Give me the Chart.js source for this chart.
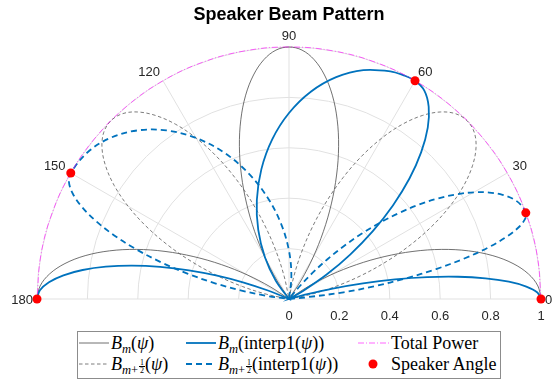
<!DOCTYPE html>
<html>
<head>
<meta charset="utf-8">
<script src="https://cdn.jsdelivr.net/npm/chart.js@4.4.1/dist/chart.umd.min.js"></script>
<style>
  body { margin: 0; background: #fff; }
  #wrap { position: relative; width: 552px; height: 385px; }
  #leg { position: absolute; left: 77px; top: 331px; width: 422px; height: 46px;
         border: 1px solid #8c8c8c; background: #fff; }
  .ent { position: absolute; height: 20px; display: flex; align-items: center; }
  .ent svg { flex: none; }
  .m { font-family: 'Liberation Serif', 'Times New Roman', serif; font-size: 18px; color: #000;
       white-space: nowrap; margin-left: 2px; }
  .m sub { font-size: 12.5px; vertical-align: -4px; line-height: 0; }
  .fr { display: inline-block; font-size: 8px; line-height: 7px;
        vertical-align: 1px; text-align: center; margin-left: 1px; }
  .fr span { display: block; padding: 0 1px; }
  .fr span + span { border-top: 0.8px solid #000; }
</style>
</head>
<body>
<div id="wrap">
  <canvas id="c" width="552" height="385"></canvas>
  <div id="leg">
    <div class="ent" style="left:0px;top:1px">
      <svg width="31" height="10"><line x1="1" y1="5" x2="31" y2="5" stroke="#4d4d4d" stroke-width="0.8"/></svg>
      <span class="m"><i>B</i><sub><i>m</i></sub>(<i>ψ</i>)</span>
    </div>
    <div class="ent" style="left:0px;top:22px">
      <svg width="31" height="10"><line x1="1" y1="5" x2="31" y2="5" stroke="#5a5a5a" stroke-width="0.8" stroke-dasharray="3.5 2.5"/></svg>
      <span class="m"><i>B</i><sub><i>m</i>+<span class="fr"><span>1</span><span>2</span></span></sub>(<i>ψ</i>)</span>
    </div>
    <div class="ent" style="left:107px;top:1px">
      <svg width="31" height="10"><line x1="1" y1="5" x2="31" y2="5" stroke="#0072BD" stroke-width="1.8"/></svg>
      <span class="m"><i>B</i><sub><i>m</i></sub>(interp1(<i>ψ</i>))</span>
    </div>
    <div class="ent" style="left:107px;top:22px">
      <svg width="31" height="10"><line x1="1" y1="5" x2="31" y2="5" stroke="#0072BD" stroke-width="1.8" stroke-dasharray="6 4"/></svg>
      <span class="m"><i>B</i><sub><i>m</i>+<span class="fr"><span>1</span><span>2</span></span></sub>(interp1(<i>ψ</i>))</span>
    </div>
    <div class="ent" style="left:279px;top:1px">
      <svg width="32" height="10"><line x1="1" y1="5" x2="32" y2="5" stroke="#ff00ff" stroke-opacity="0.6" stroke-width="1" stroke-dasharray="6 2 1 2"/></svg>
      <span class="m">Total Power</span>
    </div>
    <div class="ent" style="left:279px;top:22px">
      <svg width="32" height="10"><circle cx="16" cy="5" r="4.5" fill="#ff0000"/></svg>
      <span class="m">Speaker Angle</span>
    </div>
  </div>
</div>
<script>
// Polar data: angles in degrees, radii (normalised beam amplitude)

// B_m(psi) - beams at 0, 90, 180
const bmAngles = [0, 3, 6, 9, 12, 15, 18, 21, 24, 27, 30, 33, 36,
                  54, 57, 60, 63, 66, 69, 72, 75, 78, 81, 84, 87, 90, 93, 96, 99, 102, 105, 108, 111, 114, 117, 120, 123, 126,
                  144, 147, 150, 153, 156, 159, 162, 165, 168, 171, 174, 177, 180];
const bmR = [1, 0.989, 0.955, 0.90, 0.827, 0.738, 0.637, 0.527, 0.413, 0.30, 0.191, 0.09, 0,
             0, 0.09, 0.191, 0.30, 0.413, 0.527, 0.637, 0.738, 0.827, 0.90, 0.955, 0.989, 1, 0.989, 0.955, 0.90, 0.827, 0.738, 0.637, 0.527, 0.413, 0.30, 0.191, 0.09, 0,
             0, 0.09, 0.191, 0.30, 0.413, 0.527, 0.637, 0.738, 0.827, 0.90, 0.955, 0.989, 1];

// B_{m+1/2}(psi) - beams at 45, 135
const bhAngles = [0, 9, 12, 15, 18, 21, 24, 27, 30, 33, 36, 39, 42, 45, 48, 51, 54, 57, 60, 63, 66, 69, 72, 75, 78, 81,
                  99, 102, 105, 108, 111, 114, 117, 120, 123, 126, 129, 132, 135, 138, 141, 144, 147, 150, 153, 156, 159, 162, 165, 168, 171, 180];
const bhR = [0, 0, 0.09, 0.191, 0.30, 0.413, 0.527, 0.637, 0.738, 0.827, 0.90, 0.955, 0.989, 1, 0.989, 0.955, 0.90, 0.827, 0.738, 0.637, 0.527, 0.413, 0.30, 0.191, 0.09, 0,
             0, 0.09, 0.191, 0.30, 0.413, 0.527, 0.637, 0.738, 0.827, 0.90, 0.955, 0.989, 1, 0.989, 0.955, 0.90, 0.827, 0.738, 0.637, 0.527, 0.413, 0.30, 0.191, 0.09, 0, 0];

// B_m(interp1(psi)) - beams at 0, 60, 180
const imAngles = [0, 1.5, 3, 4.5, 6, 7.5, 9, 10.5, 12, 13.5, 15, 16,
                  28, 30, 33, 36, 39, 42, 45, 48, 51, 54, 57, 60, 63, 66, 72, 78, 84, 90, 96, 102, 108, 114, 120, 126, 132,
                  156, 158, 160, 162, 164, 166, 168, 170, 172, 174, 176, 178, 180];
const imR = [1, 0.986, 0.943, 0.875, 0.784, 0.676, 0.555, 0.428, 0.30, 0.178, 0.066, 0,
             0, 0.066, 0.178, 0.30, 0.428, 0.555, 0.676, 0.784, 0.875, 0.943, 0.986, 1, 0.997, 0.989, 0.955, 0.90, 0.827, 0.738, 0.637, 0.527, 0.413, 0.30, 0.191, 0.09, 0,
             0, 0.09, 0.191, 0.30, 0.413, 0.527, 0.637, 0.738, 0.827, 0.90, 0.955, 0.989, 1];

// B_{m+1/2}(interp1(psi)) - beams at 20, 150
const ihAngles = [0, 4, 5.5, 7, 8.5, 10, 11.5, 13, 14.5, 16, 17.5, 19, 20, 22, 24, 26, 28, 30, 32, 34, 36, 38, 40, 42, 44, 46, 48, 50, 52,
                  78, 84, 90, 96, 102, 108, 114, 120, 126, 132, 138, 144, 150, 152, 154, 156, 158, 160, 162, 164, 166, 168, 170, 172, 174, 180];
const ihR = [0, 0, 0.066, 0.218, 0.342, 0.47, 0.596, 0.714, 0.817, 0.90, 0.96, 0.994, 1, 0.994, 0.975, 0.943, 0.90, 0.847, 0.784, 0.714, 0.637, 0.555, 0.47, 0.385, 0.30, 0.218, 0.139, 0.066, 0,
             0, 0.09, 0.191, 0.30, 0.413, 0.527, 0.637, 0.738, 0.827, 0.90, 0.955, 0.989, 1, 0.989, 0.955, 0.90, 0.827, 0.738, 0.637, 0.527, 0.413, 0.30, 0.191, 0.09, 0, 0];

// Total power envelope
const tpAngles = [0, 10, 20, 30, 40, 50, 60, 70, 80, 90, 100, 110, 120, 130, 140, 150, 160, 170, 180];
const tpR = [1, 1, 1, 1, 1, 1, 1, 1, 1, 1, 1, 1, 1, 1, 1, 1, 1, 1, 1];

// Speaker angles
const spkAngles = [0, 20, 60, 150, 180];
const spkR = [1, 1, 1, 1, 1];

const angleTicks = [0, 30, 60, 90, 120, 150, 180];
const radialTicks = [0, 0.2, 0.4, 0.6, 0.8, 1];
const radialLabels = ['0', '0.2', '0.4', '0.6', '0.8', '1'];

function toXY(angles, radii) {
    return angles.map((a, i) => ({
        x: radii[i] * Math.cos(a * Math.PI / 180),
        y: radii[i] * Math.sin(a * Math.PI / 180)
    }));
}

const polarGrid = {
    id: 'polarGrid',
    beforeDatasetsDraw(chart) {
        const {ctx, scales: {x, y}} = chart;
        const cx = x.getPixelForValue(0), cy = y.getPixelForValue(0);
        const R = x.getPixelForValue(1) - cx;
        ctx.save();
        ctx.strokeStyle = '#e1e1e1';
        ctx.lineWidth = 1;
        radialTicks.forEach(r => {
            if (r === 0) return;
            ctx.beginPath();
            ctx.arc(cx, cy, R * r, Math.PI, 2 * Math.PI);
            ctx.stroke();
        });
        angleTicks.forEach(a => {
            const t = a * Math.PI / 180;
            ctx.beginPath();
            ctx.moveTo(cx, cy);
            ctx.lineTo(cx + R * Math.cos(t), cy - R * Math.sin(t));
            ctx.stroke();
        });
        ctx.restore();
    },
    afterDraw(chart) {
        const {ctx, scales: {x, y}} = chart;
        const cx = x.getPixelForValue(0), cy = y.getPixelForValue(0);
        const R = x.getPixelForValue(1) - cx;
        ctx.save();
        ctx.fillStyle = '#262626';
        ctx.font = '13px "Liberation Sans", Arial, sans-serif';
        // angle labels
        angleTicks.forEach(a => {
            const t = a * Math.PI / 180;
            const px = cx + (R + 6) * Math.cos(t), py = cy - (R + 6) * Math.sin(t);
            if (a === 0) {
                ctx.textAlign = 'left'; ctx.textBaseline = 'middle';
                ctx.fillText(String(a), cx + R + 4, cy + 1);
            } else if (a === 180) {
                ctx.textAlign = 'right'; ctx.textBaseline = 'middle';
                ctx.fillText(String(a), cx - R - 4, cy + 1);
            } else {
                ctx.textBaseline = 'alphabetic';
                ctx.textAlign = a < 90 ? 'left' : (a > 90 ? 'right' : 'center');
                ctx.fillText(String(a), px, py + (a === 90 ? -1 : 0));
            }
        });
        // radial tick labels
        ctx.textAlign = 'center';
        ctx.textBaseline = 'alphabetic';
        radialTicks.forEach((r, i) => {
            ctx.fillText(radialLabels[i], x.getPixelForValue(r), cy + 21);
        });
        // title
        ctx.fillStyle = '#000';
        ctx.font = 'bold 18px "Liberation Sans", Arial, sans-serif';
        ctx.fillText('Speaker Beam Pattern', cx, 20);
        ctx.restore();
    }
};

const lineBase = { showLine: true, pointRadius: 0, clip: false, fill: false };

new Chart(document.getElementById('c'), {
    type: 'scatter',
    data: {
        datasets: [
            Object.assign({}, lineBase, { label: 'Bm', data: toXY(bmAngles, bmR), borderColor: '#4d4d4d', borderWidth: 0.8, tension: 0.35, order: 6 }),
            Object.assign({}, lineBase, { label: 'Bh', data: toXY(bhAngles, bhR), borderColor: '#5a5a5a', borderWidth: 0.8, borderDash: [3.5, 2.5], tension: 0.35, order: 5 }),
            Object.assign({}, lineBase, { label: 'Bm interp', data: toXY(imAngles, imR), borderColor: '#0072BD', borderWidth: 1.8, tension: 0.35, order: 4 }),
            Object.assign({}, lineBase, { label: 'Bh interp', data: toXY(ihAngles, ihR), borderColor: '#0072BD', borderWidth: 1.8, borderDash: [6, 4], tension: 0.35, order: 3 }),
            Object.assign({}, lineBase, { label: 'Total Power', data: toXY(tpAngles, tpR), borderColor: 'rgba(255,0,255,0.6)', borderWidth: 1, borderDash: [6, 2, 1, 2], tension: 0.4, order: 2 }),
            { label: 'Speaker Angle', data: toXY(spkAngles, spkR), showLine: false, pointRadius: 4.5,
              pointBackgroundColor: '#ff0000', pointBorderColor: '#ff0000', pointBorderWidth: 0, clip: false, order: 1 }
        ]
    },
    options: {
        responsive: false,
        animation: false,
        layout: { padding: { left: 37, right: 11, top: 47, bottom: 86 } },
        scales: {
            x: { type: 'linear', min: -1, max: 1, display: false },
            y: { type: 'linear', min: 0, max: 1, display: false }
        },
        plugins: { legend: { display: false }, title: { display: false }, tooltip: { enabled: false } }
    },
    plugins: [polarGrid]
});
</script>
</body>
</html>
